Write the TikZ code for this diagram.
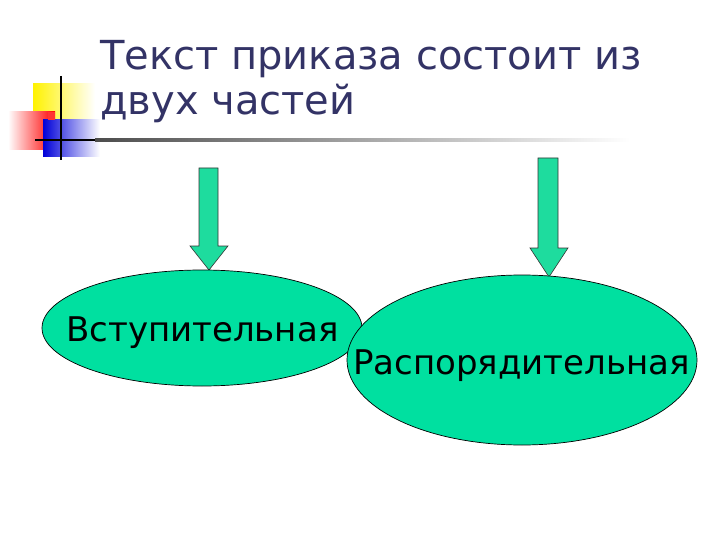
\documentclass[tikz,border=0pt]{standalone}
\usepackage{fontspec}
\setmainfont{DejaVu Sans}
\begin{document}
\begin{tikzpicture}[x=1pt,y=-1pt,
  arr/.style={draw=black!80,fill=arrcol,line width=0.6pt},
  ell/.style={draw=black,fill=ellcol,line width=0.7pt}]
\definecolor{arrcol}{HTML}{1EDC9E}
\definecolor{ellcol}{HTML}{00E0A0}
\definecolor{titlecol}{HTML}{333366}
\useasboundingbox (0,0) rectangle (720,540);
% decoration
\fill[left color=yellow!90!orange, right color=white] (33,84) rectangle (95,120);
\fill[left color=white, right color=red] (8,112) rectangle (55,150);
\fill[left color=blue!85!black, right color=white] (43,120) rectangle (100,157);
\fill[red!80] (48,112) rectangle (55,120);
\draw[line width=2pt] (61,76) -- (61,160);
\draw[line width=2pt] (35,140) -- (100,140);
\shade[left color=black!70, right color=white] (95,139) rectangle (630,141.5);
% title
\node[anchor=base west,text=titlecol,font=\fontsize{40}{46}\selectfont,inner sep=0] (t1) at (100,70) {Текст приказа состоит из};
\node[anchor=base west,text=titlecol,font=\fontsize{40}{46}\selectfont,inner sep=0] (t2) at (100,115) {двух частей};
% arrows
\draw[arr] (199,168) -- (218,168) -- (218,246) -- (228,246) -- (209,270) -- (190,246) -- (199,246) -- cycle;
\draw[arr] (538,158) -- (558,158) -- (558,248) -- (568,248) -- (549,277) -- (530,248) -- (538,248) -- cycle;
% ellipses
\draw[ell] (202,328) ellipse[x radius=160,y radius=58];
\draw[ell] (522,360) ellipse[x radius=175,y radius=85];
\node[font=\fontsize{34}{40}\selectfont,inner sep=0,anchor=base west] (e1) at (66,341) {Вступительная};
\node[font=\fontsize{34}{40}\selectfont,inner sep=0,anchor=base west] (e2) at (353,374) {Распорядительная};
\end{tikzpicture}
\end{document}
